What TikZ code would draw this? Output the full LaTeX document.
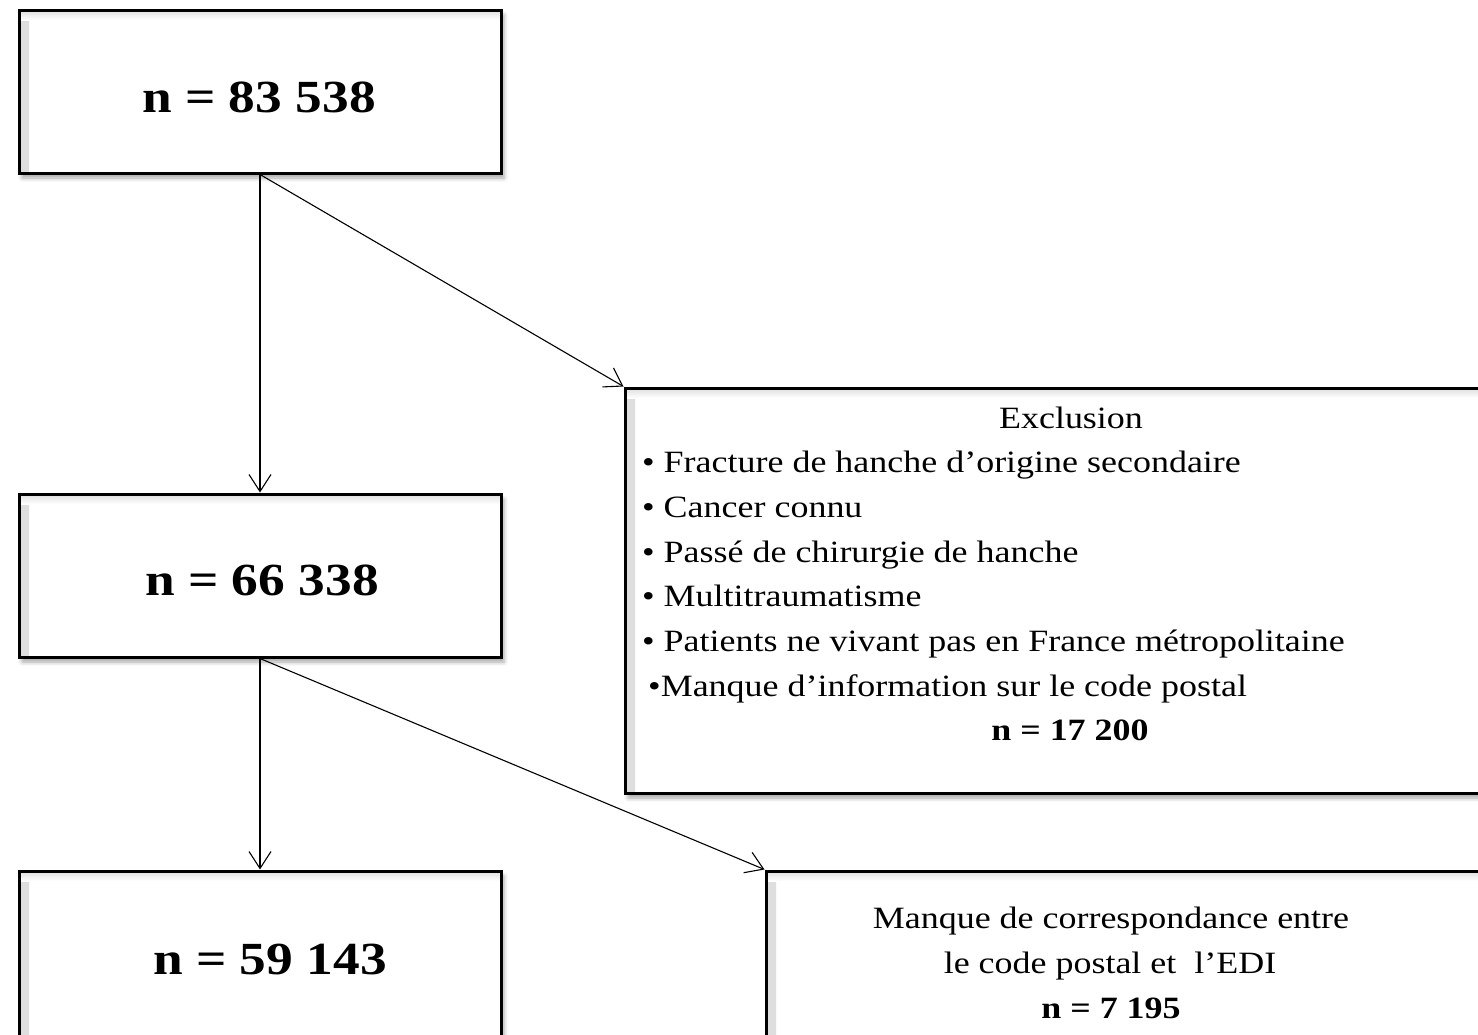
\documentclass[tikz,border=0pt]{standalone}
\usepackage{fontspec}
\setmainfont{Liberation Serif}[FakeStretch=1.16]
\usetikzlibrary{arrows.meta,shadows.blur}
\begin{document}
\begin{tikzpicture}[x=1pt,y=-1pt,
 box/.style={draw=black, line width=3pt, fill=white, rectangle, inner sep=0pt, anchor=north west,
   blur shadow={shadow xshift=3pt, shadow yshift=-5pt, shadow blur radius=4pt, shadow opacity=35},
   path picture={
     \shade[left color=black!13, right color=white] (path picture bounding box.north west) rectangle ([xshift=10pt]path picture bounding box.south west);
     \shade[top color=black!13, bottom color=white] (path picture bounding box.north west) rectangle ([yshift=-10pt]path picture bounding box.north east);
   }},
 conn/.style={line width=1.1pt, -{Straight Barb[length=17pt,width=22pt,line width=1.1pt]}},
 big/.style={font=\fontsize{46}{56}\selectfont\bfseries, anchor=base, inner sep=0pt},
 txt/.style={font=\fontsize{31}{45}\selectfont, anchor=base, inner sep=0pt},
 txtl/.style={txt, anchor=base west},
 txtb/.style={txt, font=\fontsize{31}{45}\selectfont\bfseries}]
\useasboundingbox (0,0) rectangle (1478,1034);
% boxes
\node[box, minimum width=482pt, minimum height=163pt] (b1) at (17.5,8.5) {};
\node[box, minimum width=482pt, minimum height=163pt] (b2) at (17.5,492.5) {};
\node[box, minimum width=482pt, minimum height=190pt] (b3) at (17.5,869.5) {};
\node[box, minimum width=900pt, minimum height=405pt] (ex) at (623.5,386.5) {};
\node[box, minimum width=760pt, minimum height=190pt] (b5) at (764.5,869.5) {};
% texts
\node[big] (t1) at (259,112) {n = 83 538};
\node[big] (t2) at (262,595) {n = 66 338};
\node[big] (t3) at (270,974) {n = 59 143};
\node[txt] (e0) at (1071,428) {Exclusion};
\node[txtl] (e1) at (642,472) {• Fracture de hanche d’origine secondaire};
\node[txtl] (e2) at (642,517) {• Cancer connu};
\node[txtl] (e3) at (642,562) {• Passé de chirurgie de hanche};
\node[txtl] (e4) at (642,606) {• Multitraumatisme};
\node[txtl] (e5) at (642,651) {• Patients ne vivant pas en France métropolitaine};
\node[txtl] (e6) at (648,696) {•Manque d’information sur le code postal};
\node[txtb] (e7) at (1070,740) {n = 17 200};
\node[txt] (m1) at (1111,928) {Manque de correspondance entre};
\node[txt] (m2) at (1110,973) {le code postal et\ \ l’EDI};
\node[txtb] (m3) at (1111,1018) {n = 7 195};
% connectors
\draw[conn] (b1.south) -- (b2.north);
\draw[conn] (b1.south) -- (ex.north west);
\draw[conn] (b2.south) -- (b3.north);
\draw[conn] (b2.south) -- (b5.north west);
\end{tikzpicture}
\end{document}
